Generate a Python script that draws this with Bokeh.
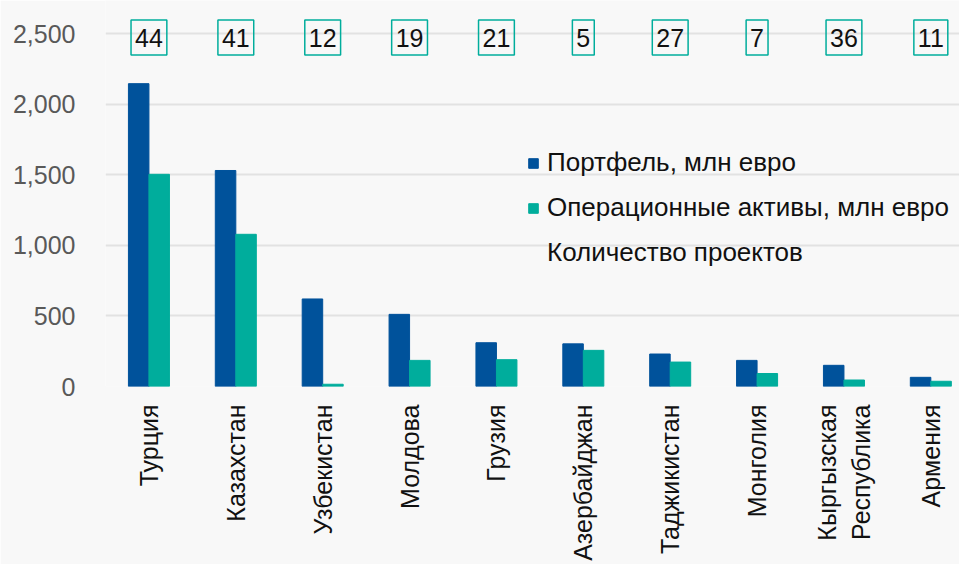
import math
from bokeh.plotting import figure
from bokeh.models import ColumnDataSource, FixedTicker, NumeralTickFormatter, Legend, LegendItem
from bokeh.transform import dodge
from bokeh.core.properties import value
from bokeh.embed import file_html
from bokeh.resources import INLINE

countries = ["Турция", "Казахстан", "Узбекистан", "Молдова", "Грузия",
             "Азербайджан", "Таджикистан", "Монголия", "Кыргызская\nРеспублика", "Армения"]
portfolio = [2145, 1530, 620, 511, 310, 302, 230, 185, 150, 65]
operating = [1503, 1078, 16, 185, 190, 256, 173, 92, 46, 37]
projects = [44, 41, 12, 19, 21, 5, 27, 7, 36, 11]
y_ticks = [0, 500, 1000, 1500, 2000, 2500]

FONT = "Liberation Sans"
BLUE = "#00529b"
TEAL = "#00ad9c"

xpos = [i + 0.5 for i in range(len(countries))]
src = ColumnDataSource(dict(
    x=xpos,
    portfolio=portfolio,
    operating=operating,
    projects=[str(v) for v in projects],
    label_y=[2472] * len(countries),
))

p = figure(width=959, height=564, x_range=(0, 9.83), y_range=(0, 2734),
           output_backend="svg", toolbar_location=None,
           background_fill_color="#f8f8f8", border_fill_color="#f8f8f8",
           min_border_left=105, min_border_right=0, min_border_top=0, min_border_bottom=178,
           outline_line_color=None)

r1 = p.vbar(x=dodge("x", -0.118, range=p.x_range), top="portfolio", width=0.236,
            source=src, fill_color=BLUE, line_color=BLUE)
r2 = p.vbar(x=dodge("x", 0.118, range=p.x_range), top="operating", width=0.236,
            source=src, fill_color=TEAL, line_color=TEAL)
r3 = p.text(x="x", y="label_y", text="projects", source=src,
            text_align="center", text_baseline="middle",
            text_font=value(FONT), text_font_size="25px", text_color="#111111",
            border_line_color=TEAL, border_line_width=1.5,
            padding=dict(left=4, right=4, top=9, bottom=8))

# axes
p.yaxis.ticker = FixedTicker(ticks=y_ticks)
p.yaxis.formatter = NumeralTickFormatter(format="0,0")
p.yaxis.major_label_text_font = FONT
p.yaxis.major_label_text_font_size = "25px"
p.yaxis.major_label_text_color = "#595959"
p.yaxis.axis_line_color = None
p.yaxis.major_tick_line_color = None
p.yaxis.minor_tick_line_color = None
p.yaxis.major_label_standoff = 24

p.xaxis.ticker = FixedTicker(ticks=xpos)
p.xaxis.major_label_overrides = {xv: name for xv, name in zip(xpos, countries)}
p.xaxis.major_label_orientation = math.pi / 2
p.xaxis.major_label_text_font = FONT
p.xaxis.major_label_text_font_size = "25px"
p.xaxis.major_label_text_color = "#111111"
p.xaxis.axis_line_color = None
p.xaxis.major_tick_line_color = None
p.xaxis.minor_tick_line_color = None
p.xaxis.major_label_standoff = 12

p.xgrid.visible = False
p.ygrid.grid_line_color = "#e2e2e2"
p.ygrid.grid_line_width = 2

legend = Legend(items=[
    LegendItem(label="Портфель, млн евро", renderers=[r1]),
    LegendItem(label="Операционные активы, млн евро", renderers=[r2]),
    LegendItem(label="Количество проектов", renderers=[r3]),
], location=(422, 118))
legend.background_fill_alpha = 0
legend.border_line_color = None
legend.label_text_font = FONT
legend.label_text_font_size = "26px"
legend.label_text_color = "#111111"
legend.glyph_width = 12
legend.glyph_height = 12
legend.label_standoff = 8
legend.label_height = 30
legend.spacing = 14
legend.padding = 0
legend.margin = 0
p.add_layout(legend)

open("out.html", "w").write(file_html(p, INLINE))
